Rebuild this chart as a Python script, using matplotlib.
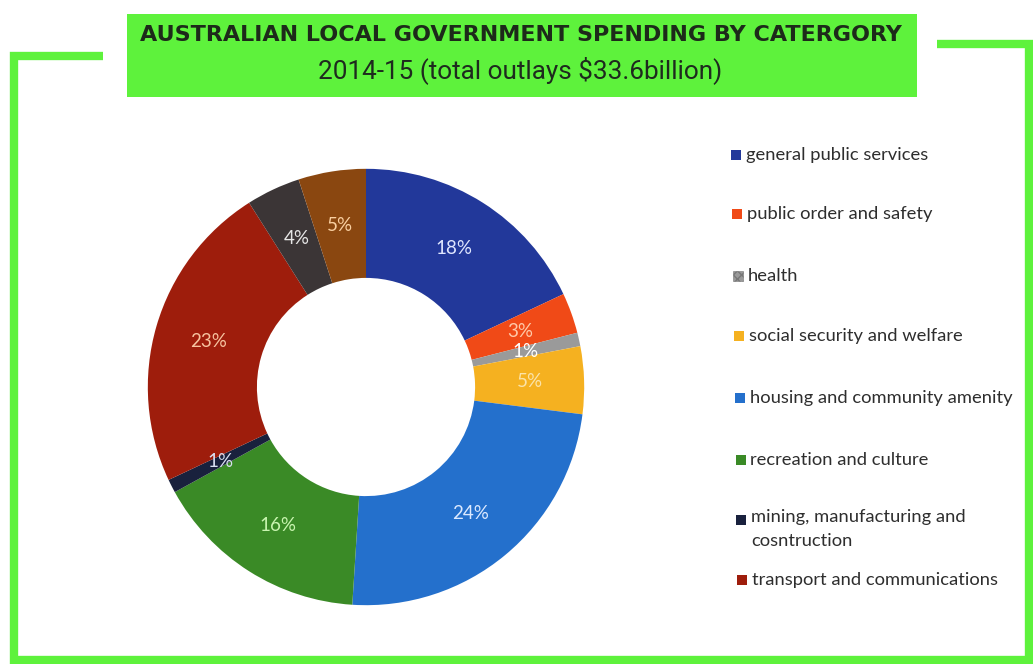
import matplotlib
matplotlib.use("Agg")
import matplotlib.pyplot as plt
from matplotlib.lines import Line2D
from matplotlib.patches import Rectangle

# ---- data -------------------------------------------------------------
categories = [
    "general public services",
    "public order and safety",
    "health",
    "social security and welfare",
    "housing and community amenity",
    "recreation and culture",
    "mining, manufacturing and\ncosntruction",
    "transport and communications",
    "other economic affairs",
    "other purposes",
]
shares = [18, 3, 1, 5, 24, 16, 1, 23, 4, 5]
legend_count = 8  # only the first eight categories appear in the key

slice_colors = ["#22389a", "#f04a17", "#9a9a9a", "#f5b120", "#2470cc",
                "#3a8a26", "#19213d", "#9e1d0c", "#3b3536", "#8a4710"]
label_colors = ["#dfe6ff", "#ffc9a8", "#ffffff", "#fbe3a8", "#dbe9ff",
                "#c9f5b0", "#d8def0", "#f7c3a0", "#e6e6e6", "#f9cfa0"]

title = "AUSTRALIAN LOCAL GOVERNMENT SPENDING BY CATERGORY"
subtitle = "2014-15 (total outlays $33.6billion)"

GREEN = "#5ef23c"
W, H = 1033, 664

fig = plt.figure(figsize=(W / 100, H / 100), dpi=100)
fig.patch.set_facecolor("white")
renderer = fig.canvas.get_renderer()


def fx(px):
    return px / W


def fy(py):
    return 1 - py / H


def fit_width(text_artist, target_px):
    """Rescale a text's font size so it spans target_px pixels."""
    w = text_artist.get_window_extent(renderer).width
    text_artist.set_fontsize(text_artist.get_fontsize() * target_px / w)


# ---- green frame ------------------------------------------------------
frame_x = [103, 14, 14, 1029, 1029, 937]
frame_y = [56, 56, 660, 660, 44, 44]
fig.add_artist(Line2D([fx(v) for v in frame_x], [fy(v) for v in frame_y],
                      color=GREEN, lw=6, solid_joinstyle="miter",
                      solid_capstyle="butt"))

# ---- title banner -----------------------------------------------------
fig.add_artist(Rectangle((fx(127), fy(97)), fx(917) - fx(127), fy(14) - fy(97),
                         facecolor=GREEN, edgecolor="none"))
t1 = fig.text(fx(521), fy(35), title, ha="center", va="center",
              fontsize=15, fontweight="bold", family="DejaVu Sans",
              color="#1d2a1a")
fit_width(t1, 763)
t2 = fig.text(fx(520), fy(70), subtitle, ha="center", va="center",
              fontsize=15, family="Roboto", color="#1e2a1e")
fit_width(t2, 405)

# ---- donut ------------------------------------------------------------
cx, cy, half = 366, 387, 240
ax = fig.add_axes([fx(cx - half), fy(cy + half), 2 * half / W, 2 * half / H])
wedges, texts, autotexts = ax.pie(
    shares, colors=slice_colors, startangle=90, counterclock=False,
    radius=1.0, pctdistance=0.75, autopct="%d%%",
    wedgeprops=dict(width=0.5, edgecolor="none", linewidth=0, antialiased=True),
    textprops=dict(fontsize=13.5, family="Lato"))
for t, c in zip(autotexts, label_colors):
    t.set_color(c)
ax.set_xlim(-1.1, 1.1)
ax.set_ylim(-1.1, 1.1)
ax.set_aspect("equal")
ax.axis("off")

# ---- key --------------------------------------------------------------
key_rows = [155, 214, 276, 336, 398, 460, 520, 580]
for i in range(legend_count):
    yc = key_rows[i]
    multiline = "\n" in categories[i]
    sq = Rectangle((fx(731 + i * 0.9), fy(yc + 5)), 10 / W, 10 / H,
                   facecolor=slice_colors[i],
                   edgecolor="#777777" if i == 2 else "none",
                   hatch="xxxx" if i == 2 else None, lw=0.4)
    fig.add_artist(sq)
    fig.text(fx(746 + i * 0.9), fy(yc - 11) if multiline else fy(yc),
             categories[i], ha="left", va="top" if multiline else "center",
             fontsize=13.2, family="Lato", color="#2e2e2e", linespacing=1.6)

fig.savefig("out.png", dpi=100, facecolor="white")
